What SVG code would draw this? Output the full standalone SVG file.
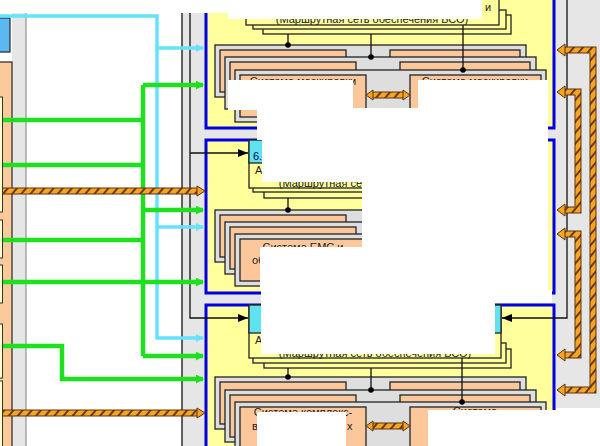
<svg xmlns="http://www.w3.org/2000/svg" width="600" height="446" viewBox="0 0 600 446">
<defs>
<pattern id="hatch" width="7" height="7" patternUnits="userSpaceOnUse" patternTransform="rotate(40)">
<rect width="7" height="7" fill="#f7a520"/><rect width="2" height="7" fill="#6b3a10"/>
</pattern>
<marker id="ag" markerUnits="userSpaceOnUse" markerWidth="8" markerHeight="9" refX="7" refY="4.5" orient="auto"><path d="M0,0 L8,4.5 L0,9 z" fill="#1fe01f"/></marker>
<marker id="ac" markerUnits="userSpaceOnUse" markerWidth="8" markerHeight="8" refX="7" refY="4" orient="auto"><path d="M0,0 L8,4 L0,8 z" fill="#66e2ff"/></marker>
<marker id="ak" markerUnits="userSpaceOnUse" markerWidth="10" markerHeight="8" refX="10" refY="4" orient="auto"><path d="M0,0 L10,4 L0,8 z" fill="#000"/></marker>
</defs>
<style>
.frame{fill:#ffff9c;stroke:#0000e6;stroke-width:3}
.hdr{fill:#ffff9c;stroke:#222;stroke-width:1.3}
.cy{fill:#5fe3f0;stroke:#222;stroke-width:1.3}
.card{fill:#dedede;stroke:#222;stroke-width:1.3}
.org{fill:#fcc89b;stroke:#222;stroke-width:1.3}
.g{fill:none;stroke:#1fe01f;stroke-width:4.5}
.c{fill:none;stroke:#66e2ff;stroke-width:3.5}
.k{fill:none;stroke:#111;stroke-width:1.3}
.hb{fill:none;stroke:#5a3210;stroke-width:7}
.hf{fill:none;stroke:url(#hatch);stroke-width:5}
.ha{fill:#f7a520;stroke:#5a3210;stroke-width:1}
.dot{fill:#000}
.cov{fill:#fff}
.band{fill:#e6e6e6}
text{font-family:"Liberation Sans",Arial,sans-serif;font-size:11px;fill:#222}
</style>
<rect width="600" height="446" fill="#fff"/>

<!-- left column -->
<g id="left-panel">
<rect class="band" x="12" y="12" width="14" height="434"/>
<line x1="26" y1="12" x2="26" y2="446" stroke="#666" stroke-width="0.8"/>
<rect x="-2" y="62" width="14" height="390" fill="#fcc99b" stroke="#333" stroke-width="1.3"/>
<rect x="-5" y="97" width="7.5" height="115" fill="#ffffcc" stroke="#333" stroke-width="1"/>
<rect x="-5" y="220" width="7.5" height="38" fill="#ffffcc" stroke="#333" stroke-width="1"/>
<rect x="-5" y="265" width="7.5" height="38" fill="#ffffcc" stroke="#333" stroke-width="1"/>
<rect x="-5" y="324" width="7.5" height="54" fill="#ffffcc" stroke="#333" stroke-width="1"/>
<rect x="-5" y="381" width="7.5" height="70" fill="#ffffcc" stroke="#333" stroke-width="1"/>
<rect x="-2" y="18" width="12" height="34" fill="#5bb8f0" stroke="#333" stroke-width="1.3"/>
</g>

<!-- grey bands -->
<rect class="band" x="182" y="12" width="374" height="434"/>
<rect class="band" x="555" y="0" width="45" height="408"/>

<!-- frame 1 -->
<g id="sys1">
<rect class="frame" x="206" y="-10" width="348" height="138"/>
<rect class="hdr" x="263" y="15" width="248" height="19"/>
<rect class="hdr" x="253" y="10" width="253" height="19"/>
<rect class="hdr" x="246" y="-30" width="253" height="55"/>
<text x="485" y="11">и</text>
<text x="372" y="23" text-anchor="middle">(Маршрутная сеть обеспечения БСО)</text>
<rect class="card" x="215" y="45" width="311" height="52"/>
<rect class="org" x="220" y="50" width="126" height="42"/>
<rect class="org" x="390" y="50" width="130" height="42"/>
<rect class="card" x="225" y="57" width="311" height="52"/>
<rect class="org" x="230" y="62" width="126" height="42"/>
<rect class="org" x="400" y="62" width="130" height="42"/>
<rect class="card" x="235" y="70" width="311" height="52"/>
<rect class="org" x="240" y="75" width="126" height="42"/>
<rect class="org" x="410" y="75" width="131" height="42"/>
<text x="303" y="85" text-anchor="middle">Система маскировки</text>
<text x="475" y="85" text-anchor="middle">Система маскировки</text>
</g>

<!-- frame 2 -->
<g id="sys2">
<rect class="frame" x="206" y="140" width="348" height="153"/>
<rect class="hdr" x="264" y="178" width="247" height="20"/>
<rect class="hdr" x="253" y="172" width="253" height="20"/>
<rect class="hdr" x="249" y="140" width="252" height="48"/>
<rect class="cy" x="249" y="140" width="252" height="23"/>
<text x="253" y="160" style="fill:#000066">6.</text>
<text x="255" y="174">А</text>
<text x="375" y="187" text-anchor="middle">(Маршрутная сеть обеспечения БСО)</text>
<rect class="card" x="215" y="210" width="311" height="52"/>
<rect class="org" x="220" y="215" width="126" height="42"/>
<rect class="org" x="390" y="215" width="130" height="42"/>
<rect class="card" x="225" y="222" width="311" height="52"/>
<rect class="org" x="230" y="227" width="126" height="42"/>
<rect class="org" x="400" y="227" width="130" height="42"/>
<rect class="card" x="235" y="234" width="311" height="52"/>
<rect class="org" x="240" y="239" width="126" height="42"/>
<rect class="org" x="410" y="239" width="131" height="42"/>
<text x="303" y="251" text-anchor="middle">Система ЕМС и</text>
<text x="252" y="264">об</text>
</g>

<!-- frame 3 -->
<g id="sys3">
<rect class="frame" x="206" y="305" width="348" height="160"/>
<rect class="hdr" x="264" y="349" width="247" height="19"/>
<rect class="hdr" x="253" y="343" width="253" height="20"/>
<rect class="hdr" x="249" y="305" width="252" height="53"/>
<rect class="cy" x="249" y="305" width="252" height="28"/>
<text x="255" y="344">А</text>
<text x="375" y="357" text-anchor="middle">(Маршрутная сеть обеспечения БСО)</text>
<rect class="card" x="215" y="377" width="311" height="52"/>
<rect class="org" x="220" y="382" width="126" height="42"/>
<rect class="org" x="390" y="382" width="130" height="42"/>
<rect class="card" x="225" y="390" width="311" height="52"/>
<rect class="org" x="230" y="395" width="126" height="42"/>
<rect class="org" x="400" y="395" width="130" height="42"/>
<rect class="card" x="235" y="402" width="311" height="52"/>
<rect class="org" x="240" y="407" width="126" height="42"/>
<rect class="org" x="410" y="407" width="131" height="42"/>
<text x="303" y="416" text-anchor="middle">Система комплекс-</text>
<text x="252" y="430">в</text>
<text x="347" y="430">х</text>
<text x="475" y="415" text-anchor="middle">Система</text>
</g>

<!-- connectors -->
<g id="connectors">
<line class="k" x1="182" y1="12" x2="182" y2="446" stroke-width="1.4"/>
<path class="k" d="M190,12 V318 H248" marker-end="url(#ak)"/>
<path class="k" d="M190,153 H248" marker-end="url(#ak)"/>
<path class="k" d="M567,0 V318 H502" marker-end="url(#ak)"/>
<path class="k" d="M288,34 V45 M371,34 V57 M463,25 V70"/>
<circle class="dot" cx="288" cy="45" r="2.8"/><circle class="dot" cx="371" cy="57" r="2.8"/><circle class="dot" cx="463" cy="70" r="2.8"/>
<path class="k" d="M288,198 V210"/>
<circle class="dot" cx="288" cy="210" r="2.8"/>
<path class="k" d="M288,368 V377 M371,368 V390 M462,358 V402"/>
<circle class="dot" cx="288" cy="377" r="2.8"/><circle class="dot" cx="371" cy="390" r="2.8"/><circle class="dot" cx="462" cy="402" r="2.8"/>
<path class="hb" d="M371,95 H405"/><path class="hf" d="M371,95 H405"/>
<polygon class="ha" points="373,90 366,95 373,100"/><polygon class="ha" points="403,90 410,95 403,100"/>
<path class="hb" d="M371,426 H405"/><path class="hf" d="M371,426 H405"/>
<polygon class="ha" points="373,421 366,426 373,431"/><polygon class="ha" points="403,421 410,426 403,431"/>
<path class="c" d="M0,16 H157 V338 H203" marker-end="url(#ac)"/>
<path class="c" d="M157,48 H203" marker-end="url(#ac)"/>
<path class="c" d="M157,227 H203" marker-end="url(#ac)"/>
<path class="g" d="M143,85 V356"/>
<path class="g" d="M143,85 H203" marker-end="url(#ag)"/>
<path class="g" d="M3,120 H143"/>
<path class="g" d="M3,165 H143"/>
<path class="g" d="M143,210 H203" marker-end="url(#ag)"/>
<path class="g" d="M3,240 H143"/>
<path class="g" d="M3,282 H203" marker-end="url(#ag)"/>
<path class="g" d="M143,356 H203" marker-end="url(#ag)"/>
<path class="g" d="M3,346 H62 V379 H203" marker-end="url(#ag)"/>
<path class="hb" d="M3,191 H198"/><path class="hf" d="M3,191 H198"/>
<polygon class="ha" points="197,186 205,191 197,196"/>
<path class="hb" d="M3,413 H198"/><path class="hf" d="M3,413 H198"/>
<polygon class="ha" points="197,408 205,413 197,418"/>
<path class="hb" d="M564,50 H593 V390 H564"/><path class="hf" d="M564,50 H593 V390 H564"/>
<polygon class="ha" points="565,44 557,50 565,56"/><polygon class="ha" points="565,384 557,390 565,396"/>
<path class="hb" d="M564,92 H578 V210 H564"/><path class="hf" d="M564,92 H578 V210 H564"/>
<polygon class="ha" points="565,86 557,92 565,98"/><polygon class="ha" points="565,204 557,210 565,216"/>
<path class="hb" d="M564,234 H578 V355 H564"/><path class="hf" d="M564,234 H578 V355 H564"/>
<polygon class="ha" points="565,228 557,234 565,240"/><polygon class="ha" points="565,349 557,355 565,361"/>
</g>

<!-- blanked regions -->
<g id="blanks">
<rect class="cov" x="0" y="0" width="228" height="13"/>
<rect class="cov" x="228" y="0" width="254" height="19"/>
<rect class="cov" x="228" y="80" width="125" height="30"/>
<rect class="cov" x="418" y="80" width="130" height="28"/>
<rect class="cov" x="257" y="108" width="291" height="32"/>
<rect class="cov" x="262" y="140" width="286" height="42"/>
<rect class="cov" x="362" y="180" width="186" height="110"/>
<rect class="cov" x="260" y="247" width="102" height="43"/>
<rect class="cov" x="261" y="290" width="291" height="13"/>
<rect class="cov" x="261" y="303" width="234" height="51"/>
<rect class="cov" x="257" y="412" width="89" height="34"/>
<rect class="cov" x="428" y="410" width="172" height="36"/>
</g>
</svg>
